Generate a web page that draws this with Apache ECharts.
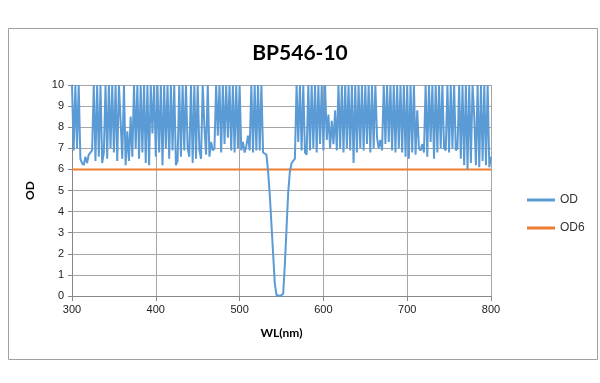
<!DOCTYPE html>
<html lang="en">
<head>
    <meta charset="UTF-8">
    <title>BP546-10</title>
    <script src="https://cdn.jsdelivr.net/npm/echarts@6/dist/echarts.min.js"></script>
    <style>
        html, body { margin: 0; padding: 0; background: #fff; }
    </style>
</head>
<body>
<div id="main" style="width: 600px;height: 383px"></div>
<script>
    // wavelength grid: 300..800 nm, every 2 nm
    var wlStart = 300, wlStep = 2;
    // OD, 10 values per row (20 nm)
    var odValues = [
        10, 6.9, 10, 7.0, 10, 6.5, 6.3, 6.2, 6.6, 6.3,       // 300
        6.7, 6.8, 6.9, 10, 6.4, 10, 6.6, 10, 6.3, 6.8,       // 320
        10, 6.5, 10, 7.0, 10, 6.8, 10, 6.4, 10, 8.3,         // 340
        6.5, 10, 6.2, 7.8, 6.4, 8.5, 6.6, 10, 7.0, 10,       // 360
        6.5, 10, 6.8, 10, 6.3, 10, 6.2, 10, 7.7, 10,         // 380
        6.6, 10, 6.8, 10, 6.2, 10, 7.0, 10, 6.5, 10,         // 400
        6.9, 10, 6.2, 6.4, 10, 6.6, 10, 6.9, 10, 7.0,        // 420
        6.6, 10, 6.3, 10, 6.5, 10, 6.9, 6.5, 10, 8.0,        // 440
        6.7, 10, 6.6, 7.3, 6.9, 7.0, 10, 7.6, 10, 6.8,       // 460
        10, 7.2, 10, 7.5, 10, 6.9, 10, 6.8, 10, 7.0,         // 480
        10, 6.9, 7.3, 6.8, 7.1, 7.6, 6.9, 10, 6.8, 10,       // 500
        6.9, 10, 6.9, 10, 6.8, 6.8, 6.7, 5.9, 4.8, 3.4,      // 520
        2.0, 0.6, 0.05, 0, 0, 0, 0.1, 1.5, 3.2, 4.9,         // 540
        5.9, 6.3, 6.4, 6.5, 10, 7.3, 10, 6.9, 10, 6.8,       // 560
        6.7, 10, 6.9, 10, 7.0, 10, 6.8, 10, 7.2, 10,         // 580
        6.9, 10, 7.4, 8.6, 7.0, 8.3, 7.2, 8.8, 6.9, 10,      // 600
        7.0, 10, 6.8, 10, 7.0, 10, 6.9, 10, 6.3, 10,         // 620
        6.8, 10, 7.0, 10, 6.9, 10, 7.2, 10, 6.8, 10,         // 640
        7.0, 10, 7.5, 7.0, 7.4, 6.9, 10, 7.2, 10, 7.3,       // 660
        10, 6.9, 10, 6.8, 10, 7.0, 10, 6.8, 10, 6.6,         // 680
        10, 6.5, 10, 6.8, 10, 6.7, 8.8, 7.0, 6.9, 7.2,       // 700
        6.8, 10, 6.6, 10, 7.3, 10, 6.5, 10, 6.8, 10,         // 720
        7.0, 10, 7.0, 6.9, 10, 6.8, 10, 7.0, 10, 6.9,        // 740
        7.0, 10, 6.5, 10, 6.2, 10, 6.0, 10, 6.3, 10,         // 760
        8.5, 6.2, 10, 6.1, 10, 6.4, 10, 6.2, 10, 6.1,        // 780
        6.6                                                  // 800
    ];
    var od6Points = [[300, 6], [800, 6]];
    var xTicks = [300, 400, 500, 600, 700, 800];
    var yTicks = [0, 10];

    var odData = [];
    for (var i = 0; i < odValues.length; i++) {
        odData.push([wlStart + i * wlStep, odValues[i]]);
    }

    var myChart = echarts.init(document.getElementById('main'));
    var gridColor = '#a6a6a6';
    option = {
        animation: false,
        backgroundColor: '#fff',
        graphic: [{
            type: 'rect',
            left: 6, top: 26,
            shape: {width: 589, height: 331},
            style: {fill: 'none', stroke: '#a0a0a0', lineWidth: 1}
        }],
        title: {
            text: 'BP546-10',
            left: 'center',
            top: 38,
            textStyle: {fontFamily: 'Lato', fontWeight: 'bold', fontSize: 21, color: '#000'}
        },
        legend: {
            orient: 'vertical',
            left: 522,
            top: 189,
            itemWidth: 28,
            itemHeight: 3,
            itemGap: 16,
            icon: 'rect',
            textStyle: {fontFamily: 'Liberation Sans', fontSize: 12, color: '#333'},
            data: ['OD', 'OD6']
        },
        grid: {
            left: 72,
            right: 109,
            top: 85,
            bottom: 87
        },
        xAxis: {
            type: 'value',
            min: xTicks[0],
            max: xTicks[xTicks.length - 1],
            interval: 100,
            name: 'WL(nm)',
            nameLocation: 'middle',
            nameGap: 31,
            nameTextStyle: {fontFamily: 'Lato', fontWeight: 'bold', fontSize: 12, color: '#000'},
            axisLine: {lineStyle: {color: '#888', width: 1}},
            axisTick: {show: true, length: 5, lineStyle: {color: '#888'}},
            axisLabel: {fontFamily: 'Liberation Sans', fontSize: 11, color: '#222', margin: 8},
            splitLine: {show: true, lineStyle: {color: gridColor, width: 1}}
        },
        yAxis: {
            type: 'value',
            min: yTicks[0],
            max: yTicks[1],
            interval: 1,
            name: 'OD',
            nameLocation: 'middle',
            nameGap: 36,
            nameTextStyle: {fontFamily: 'Lato', fontWeight: 'bold', fontSize: 12, color: '#000'},
            axisLine: {show: true, lineStyle: {color: '#888', width: 1}},
            axisTick: {show: true, length: 4, lineStyle: {color: '#888'}},
            axisLabel: {fontFamily: 'Liberation Sans', fontSize: 11, color: '#222', margin: 8},
            splitLine: {show: true, lineStyle: {color: gridColor, width: 1}}
        },
        series: [
            {
                name: 'OD',
                type: 'line',
                data: odData,
                showSymbol: false,
                color: '#5b9bd5',
                lineStyle: {width: 2, color: '#5b9bd5'},
                z: 3
            },
            {
                name: 'OD6',
                type: 'line',
                data: od6Points,
                showSymbol: false,
                color: '#ed7d31',
                lineStyle: {width: 2, color: '#ed7d31'},
                z: 2
            }
        ]
    };
    myChart.setOption(option);
</script>
</body>
</html>
